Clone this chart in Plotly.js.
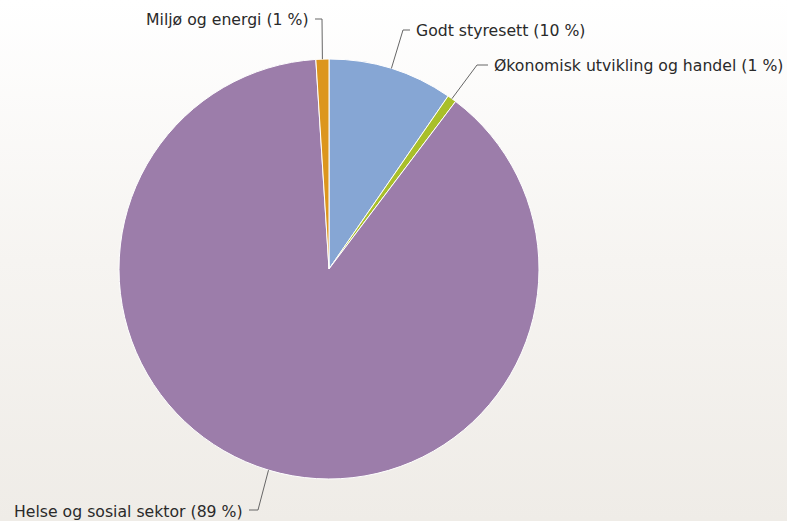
<!DOCTYPE html>
<html>
<head>
<meta charset="utf-8">
<script src="https://cdn.plot.ly/plotly-3.0.1.min.js"></script>
<style>
html, body { margin: 0; padding: 0; }
body { width: 787px; height: 521px; background: linear-gradient(to bottom, #ffffff 0%, #f6f4f1 50%, #efece7 100%); }
#chart { width: 787px; height: 521px; }
</style>
</head>
<body>
<div id="chart"></div>
<script>
// Data
const categories = ["Godt styresett", "Økonomisk utvikling og handel", "Helse og sosial sektor", "Miljø og energi"];
const values = [9.6, 0.7, 88.7, 1.0];
const colors = ["#86a6d4", "#a9bf2a", "#9c7daa", "#dc961e"];

const W = 787, H = 521;
// Pie placement (layout)
const cx = 329, cy = 269, R = 210;

// Label placement (layout): elbow point and end point for each connector, text side
const labelLayout = [
  {elbow: [403, 30], end: [410, 30], side: "left"},
  {elbow: [477, 65], end: [488, 65], side: "left"},
  {elbow: [258, 510], end: [249, 510], side: "right"},
  {elbow: [322, 19], end: [315, 19], side: "right"}
];

const total = values.reduce((a, b) => a + b, 0);
const px = x => x / W;
const py = y => 1 - y / H;

const shapes = [];
const annotations = [];
let cum = 0;
values.forEach((v, i) => {
  const mid = (cum + v / 2) / total * 2 * Math.PI;
  cum += v;
  const ex = cx + R * Math.sin(mid), ey = cy - R * Math.cos(mid);
  const L = labelLayout[i];
  shapes.push({
    type: "path", xref: "paper", yref: "paper",
    path: `M ${px(ex)} ${py(ey)} L ${px(L.elbow[0])} ${py(L.elbow[1])} L ${px(L.end[0])} ${py(L.end[1])}`,
    line: {color: "#666666", width: 1}
  });
  const pct = Math.round(v / total * 100);
  annotations.push({
    xref: "paper", yref: "paper",
    x: px(L.end[0] + (L.side === "left" ? 4 : -4)),
    y: py(L.end[1] + 1),
    xanchor: L.side, yanchor: "middle",
    text: `${categories[i]} (${pct} %)`,
    showarrow: false,
    font: {family: "DejaVu Sans", size: 15.7, color: "#2a2a2a"}
  });
});

const trace = {
  type: "pie",
  labels: categories,
  values: values,
  sort: false,
  direction: "clockwise",
  rotation: 0,
  textinfo: "none",
  hoverinfo: "label+percent",
  marker: {colors: colors, line: {color: "#ffffff", width: 1}},
  domain: {x: [px(cx - R), px(cx + R)], y: [py(cy + R), py(cy - R)]},
  showlegend: false
};

const layout = {
  width: W, height: H,
  margin: {l: 0, r: 0, t: 0, b: 0},
  paper_bgcolor: "rgba(0,0,0,0)",
  plot_bgcolor: "rgba(0,0,0,0)",
  showlegend: false,
  shapes: shapes,
  annotations: annotations
};

Plotly.newPlot("chart", [trace], layout, {staticPlot: true});
</script>
</body>
</html>
